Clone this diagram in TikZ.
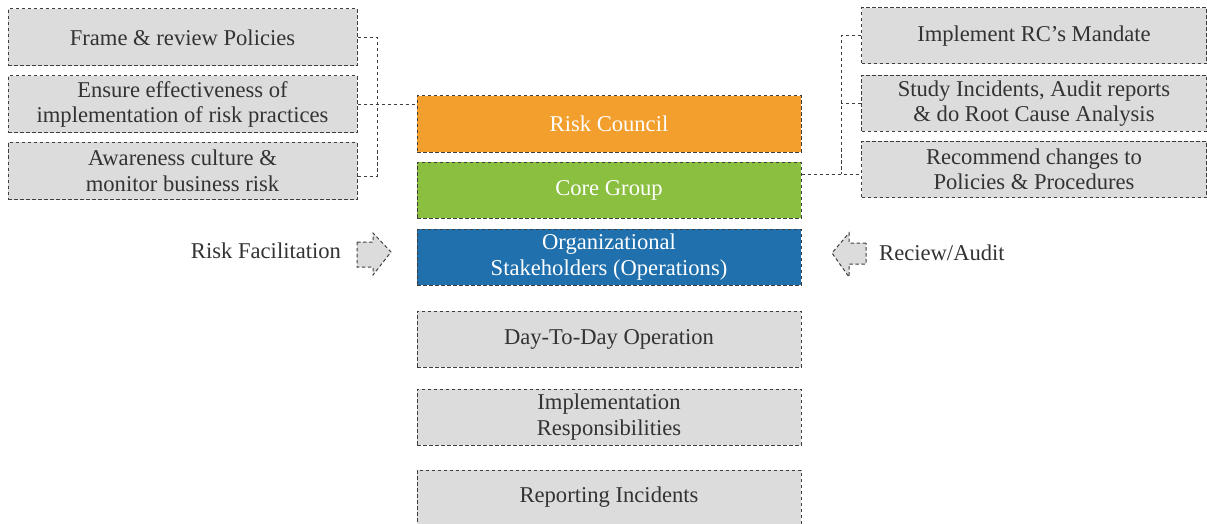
\documentclass[tikz,border=0pt]{standalone}
\usepackage{fontspec}
\setmainfont{Liberation Serif}
\definecolor{boxgray}{HTML}{DCDCDD}
\definecolor{linegray}{HTML}{3E3E3E}
\definecolor{txtgray}{HTML}{333333}
\definecolor{rcorange}{HTML}{F39F2D}
\definecolor{cggreen}{HTML}{8ABF40}
\definecolor{osblue}{HTML}{1F70AD}
\tikzset{
  dsh/.style={draw=linegray, line width=1pt, dash pattern=on 3.5pt off 2.5pt},
  gbox/.style={dsh, fill=boxgray, text=txtgray, inner sep=0pt, align=center,
    font=\fontsize{22.6}{25.5}\selectfont},
  sidebox/.style={gbox, minimum width=349pt, minimum height=57pt},
  rsidebox/.style={gbox, minimum width=345pt, minimum height=56pt},
  cbox/.style={gbox, minimum width=384pt, minimum height=56pt},
  colbox/.style={cbox, text=white},
  conn/.style={dsh},
  lbl/.style={text=txtgray, font=\fontsize{22.6}{25.5}\selectfont, inner sep=0pt},
  arr/.style={dsh, fill=boxgray}
}
\begin{document}
\begin{tikzpicture}[x=1pt,y=-1pt]
\useasboundingbox (0,0) rectangle (1207,524);
% left boxes
\node[sidebox] (l1) at (182.5,37.5) {Frame \& review Policies};
\node[sidebox] (l2) at (182.5,104.5) {Ensure effectiveness of\\implementation of risk practices};
\node[sidebox] (l3) at (182.5,171) {Awareness culture \&\\monitor business risk};
% right boxes
\node[rsidebox] (r1) at (1034,36) {Implement RC's Mandate};
\node[rsidebox] (r2) at (1034,103.5) {Study Incidents, Audit reports\\\& do Root Cause Analysis};
\node[rsidebox] (r3) at (1034,169.5) {Recommend changes to\\Policies \& Procedures};
% center
\node[colbox, fill=rcorange] (rc) at (609,124) {Risk Council};
\node[colbox, fill=cggreen] (cg) at (609,190) {Core Group};
\node[colbox, fill=osblue] (os) at (609,257) {Organizational\\Stakeholders (Operations)};
\node[cbox] (dd) at (609,339) {Day-To-Day Operation};
\node[cbox] (ir) at (609,417) {Implementation\\Responsibilities};
\node[cbox, minimum height=54pt] (ri) at (609,497) {Reporting Incidents};
% left connectors
\coordinate (lj) at (377,176);
\draw[conn] (l1.east) -| (lj) -- (lj -| l3.east);
\draw[conn] (l2.east) -- (l2.east -| rc.west);
% right connectors
\coordinate (rj) at (841,174);
\draw[conn] (r1.west) -| (rj);
\draw[conn] (r2.west) -- (r2.west -| rj);
\draw[conn] (cg.east |- rj) -- (rj -| r3.west);
% arrows
\node[lbl] (rf) at (266,251) {Risk Facilitation};
\node[lbl, anchor=west] (ra) at (879,253) {Reciew/Audit};
\draw[arr] (357,242) -- (373,242) -- (373,233) -- (391,252) -- (373,275) -- (373,267) -- (357,267) -- cycle;
\draw[arr] (866,243) -- (849,243) -- (849,233) -- (832,253) -- (849,277) -- (849,264) -- (866,264) -- cycle;
\end{tikzpicture}
\end{document}
